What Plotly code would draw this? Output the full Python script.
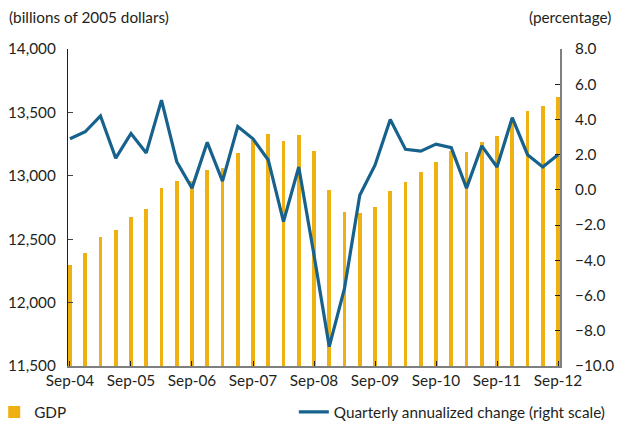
import plotly.graph_objects as go

# quarterly real GDP (billions of 2005 dollars), Sep-04 .. Sep-12
quarters = ["Sep-04", "Dec-04", "Mar-05", "Jun-05", "Sep-05", "Dec-05", "Mar-06", "Jun-06",
            "Sep-06", "Dec-06", "Mar-07", "Jun-07", "Sep-07", "Dec-07", "Mar-08", "Jun-08",
            "Sep-08", "Dec-08", "Mar-09", "Jun-09", "Sep-09", "Dec-09", "Mar-10", "Jun-10",
            "Sep-10", "Dec-10", "Mar-11", "Jun-11", "Sep-11", "Dec-11", "Mar-12", "Jun-12",
            "Sep-12"]
gdp = [12295, 12395, 12521, 12576, 12676, 12741, 12904, 12957,
       12960, 13046, 13064, 13182, 13280, 13332, 13274, 13319,
       13193, 12891, 12715, 12707, 12752, 12883, 12954, 13027,
       13111, 13193, 13190, 13269, 13316, 13440, 13511, 13553,
       13624]
# quarterly annualized change (percent)
change = [2.9, 3.3, 4.2, 1.8, 3.2, 2.1, 5.1, 1.6,
          0.1, 2.7, 0.5, 3.6, 2.9, 1.7, -1.8, 1.3,
          -3.7, -8.9, -5.6, -0.3, 1.4, 4.0, 2.3, 2.2,
          2.6, 2.4, 0.1, 2.5, 1.3, 4.1, 2.0, 1.3,
          2.0]

tick_labels = ["Sep-04", "Sep-05", "Sep-06", "Sep-07", "Sep-08", "Sep-09", "Sep-10", "Sep-11", "Sep-12"]

gold = "#EEB111"
blue = "#17628C"
font = "Lato"
fsize = 15.3

x = list(range(len(quarters)))

fig = go.Figure()
fig.add_trace(go.Bar(x=x, y=gdp, name="GDP", marker_color=gold, marker_line_width=0,
                     width=0.25, legend="legend", hovertext=quarters))
fig.add_trace(go.Scatter(x=x, y=change, name="Quarterly annualized change (right scale)",
                         mode="lines", line=dict(color=blue, width=3.2), yaxis="y2",
                         legend="legend2", hovertext=quarters))

fig.update_layout(
    width=618, height=422,
    margin=dict(l=68, r=58, t=49, b=56, autoexpand=False),
    plot_bgcolor="white", paper_bgcolor="white",
    font=dict(family=font, size=fsize, color="#231f20"),
    showlegend=True,
    bargap=0,
    xaxis=dict(range=[-0.13, 32.13], tickvals=[i * 4 for i in range(len(tick_labels))],
               ticktext=tick_labels, showline=True, linecolor="#7f7f7f", linewidth=2,
               ticks="inside", ticklen=5, tickcolor="#231f20", showgrid=False, zeroline=False,
               automargin=False),
    yaxis=dict(range=[11500, 14000], tickvals=[11500, 12000, 12500, 13000, 13500, 14000],
               tickformat=",d", showline=True, linecolor="#231f20", linewidth=1.2,
               ticks="inside", ticklen=5, showgrid=False, zeroline=False, ticklabelstandoff=8,
               automargin=False),
    yaxis2=dict(range=[-10, 8], tickvals=list(range(-10, 9, 2)), tickformat=".1f",
                overlaying="y", side="right", showline=True, linecolor="#7f7f7f", linewidth=2,
                ticks="inside", ticklen=5, tickcolor="#231f20", showgrid=False, zeroline=False,
                ticklabelstandoff=10, automargin=False),
    legend=dict(orientation="h", x=-0.15, xanchor="left", y=-0.145, yanchor="middle",
                bgcolor="rgba(0,0,0,0)", font=dict(size=fsize)),
    legend2=dict(orientation="h", x=0.459, xanchor="left", y=-0.145, yanchor="middle",
                 bgcolor="rgba(0,0,0,0)", font=dict(size=fsize)),
    annotations=[
        dict(text="(billions of 2005 dollars)", xref="paper", yref="paper", x=-0.125, y=1.101,
             xanchor="left", yanchor="middle", showarrow=False, font=dict(size=fsize)),
        dict(text="(percentage)", xref="paper", yref="paper", x=1.108, y=1.101,
             xanchor="right", yanchor="middle", showarrow=False, font=dict(size=fsize)),
    ],
)

# drop the page's default body margin so the 618x422 figure sits at the window origin
fig.write_html("out.html", config={"displayModeBar": False},
               post_script="document.body.style.margin='0';")
